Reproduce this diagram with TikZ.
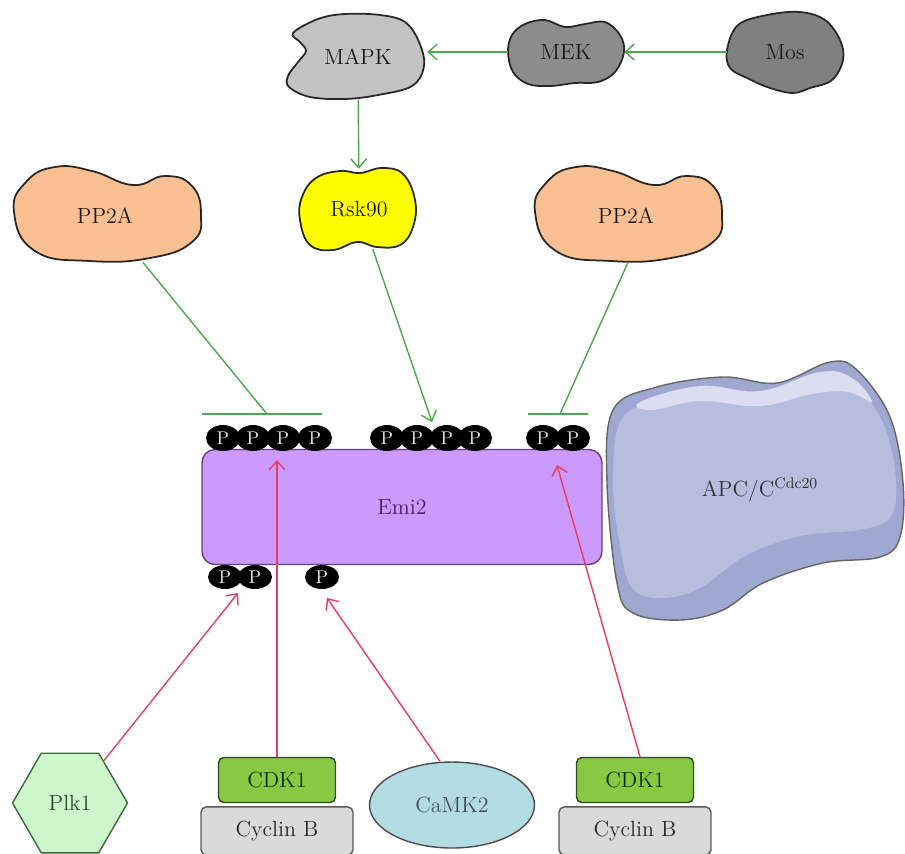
\documentclass[tikz,border=0pt]{standalone}
\usepackage{tikz}
\usetikzlibrary{shapes.geometric,arrows.meta,positioning}

\definecolor{actgreen}{RGB}{80,165,80}
\definecolor{phosred}{RGB}{230,62,95}
\definecolor{mapkgray}{RGB}{194,194,194}
\definecolor{mekgray}{RGB}{140,140,140}
\definecolor{mosgray}{RGB}{128,128,128}
\definecolor{ppfill}{RGB}{250,192,145}
\definecolor{rskyellow}{RGB}{255,255,0}
\definecolor{emifill}{RGB}{204,153,255}
\definecolor{emidraw}{RGB}{105,60,135}
\definecolor{emitext}{RGB}{75,30,105}
\definecolor{apcdark}{RGB}{158,168,208}
\definecolor{apcfill}{RGB}{182,190,224}
\definecolor{apclight}{RGB}{218,222,240}
\definecolor{plkfill}{RGB}{205,246,205}
\definecolor{plkdraw}{RGB}{60,105,60}
\definecolor{cdkfill}{RGB}{136,200,66}
\definecolor{cdkdraw}{RGB}{45,75,30}
\definecolor{cycfill}{RGB}{218,218,218}
\definecolor{camfill}{RGB}{178,220,226}

\begin{document}
\begin{tikzpicture}[x=0.02cm, y=-0.02cm,
  >={Straight Barb[length=5pt,width=9pt]},
  font=\fontsize{12.5}{15}\selectfont,
  blob/.style={draw=black!85, line width=1pt},
  tag/.style={inner sep=0pt, text=black!90},
  act/.style={->, draw=actgreen, line width=0.8pt},
  inh/.style={draw=actgreen, line width=0.8pt},
  phos/.style={->, draw=phosred, line width=0.8pt},
  pdot/.style={ellipse, fill=black, minimum width=0.68cm, minimum height=0.52cm,
    inner sep=0pt, text=white!90!black, font=\fontsize{10.5}{12}\selectfont},
  kbox/.style={rectangle, rounded corners=3pt, line width=0.8pt,
    minimum width=2.34cm, minimum height=0.9cm, fill=cdkfill, draw=cdkdraw, text=black!80!green},
  cbox/.style={rectangle, rounded corners=3pt, line width=0.8pt,
    minimum width=3.04cm, minimum height=0.96cm, fill=cycfill, draw=black!65, text=black!85}]
\useasboundingbox (0,0) rectangle (905,853);

% top kinase cascade
\draw[blob, fill=mapkgray] plot[smooth cycle, tension=0.6] coordinates {
  (293,33) (318,19) (345,14) (380,15) (405,22) (419,42) (424,66) (412,86)
  (378,95) (345,99) (310,97) (289,87) (288,76) (298,62) (306,51) (300,42)};
\draw[blob, fill=mekgray] plot[smooth cycle, tension=0.6] coordinates {
  (508,52) (512,35) (525,24) (545,20) (565,27) (585,24) (605,22) (620,35)
  (624,52) (615,72) (598,82) (575,83) (550,86) (528,84) (513,72)};
\draw[blob, fill=mosgray] plot[smooth cycle, tension=0.6] coordinates {
  (727,50) (738,25) (767,15) (800,12) (825,20) (840,40) (843,60) (832,80)
  (810,88) (793,93) (770,88) (747,78) (730,68)};
\node[tag, minimum width=2.76cm, minimum height=1.7cm] (mapk) at (358,57) {MAPK};
\node[tag, minimum width=2.32cm, minimum height=1.3cm] (mek) at (566,52) {MEK};
\node[tag, minimum width=2.32cm, minimum height=1.6cm] (mos) at (785,52) {Mos};

% Rsk90 and the two phosphatases
\draw[blob, fill=rskyellow] plot[smooth cycle, tension=0.7] coordinates {
  (302,197) (316,178) (340,171) (360,173) (382,168) (403,174) (415,200) (413,227)
  (400,245) (377,247) (357,242) (333,250) (310,245) (300,220)};
\draw[blob, fill=ppfill] plot[smooth cycle, tension=0.8] coordinates {
  (14,212) (26,182) (55,167) (92,171) (133,185) (165,176) (192,186)
  (201,215) (192,242) (150,258) (90,261) (35,251)};
\begin{scope}[shift={(521,0)}]
\draw[blob, fill=ppfill] plot[smooth cycle, tension=0.8] coordinates {
  (14,212) (26,182) (55,167) (92,171) (133,185) (165,176) (192,186)
  (201,215) (192,242) (150,258) (90,261) (35,251)};
\end{scope}
\node[tag, minimum width=2.3cm, minimum height=1.6cm] (rsk) at (359,209) {Rsk90};
\node[tag, minimum width=3.7cm, minimum height=1.84cm] (pp2aL) at (105,216) {PP2A};
\node[tag, minimum width=3.7cm, minimum height=1.84cm] (pp2aR) at (626,216) {PP2A};

% APC/C
\draw[draw=black!60, line width=0.8pt, fill=apcdark] plot[smooth cycle, tension=0.6] coordinates {
  (613,410) (657,387) (723,377) (777,383) (830,362) (857,370) (890,417) (903,483)
  (900,537) (880,557) (823,563) (763,583) (723,610) (680,620) (633,613) (617,583) (607,483)};
\fill[apcfill] plot[smooth cycle, tension=0.6] coordinates {
  (621,420) (660,400) (723,391) (777,397) (830,377) (855,384) (884,425) (896,480)
  (890,518) (858,530) (800,536) (745,556) (700,588) (662,598) (632,588) (619,540) (613,482)};
\fill[apclight] plot[smooth cycle, tension=0.7] coordinates {
  (640,402) (700,386) (760,391) (820,372) (852,378) (872,402) (848,392) (812,394)
  (760,406) (700,401) (652,410)};
\node[tag, text=black!80] (apc) at (760,490) {APC/C\textsuperscript{Cdc20}};

% Emi2 with its phospho sites
\node[rectangle, rounded corners=2.6mm, minimum width=8cm, minimum height=2.3cm,
  fill=emifill, draw=emidraw, line width=0.8pt, text=emitext] (emi) at (402,507) {Emi2};
\foreach \x [count=\i] in {223,253,283,315,387,417,447,475,543,573}
  \node[pdot] (pt\i) at (\x,438) {P};
\foreach \x [count=\i] in {225,255,322}
  \node[pdot, minimum height=0.48cm] (pb\i) at (\x,577) {P};

% kinases below
\node[regular polygon, regular polygon sides=6, minimum size=2.3cm, fill=plkfill,
  draw=plkdraw, line width=0.8pt, text=plkdraw!70!black] (plk) at (70,803) {Plk1};
\node[kbox] (cdkL) at (277,780) {CDK1};
\node[cbox, below=0.06cm of cdkL] (cycL) {Cyclin B};
\node[ellipse, minimum width=3.3cm, minimum height=1.72cm, fill=camfill,
  draw=black!70, line width=0.8pt, text=black!75!cyan] (cam) at (452,805) {CaMK2};
\node[kbox] (cdkR) at (635,780) {CDK1};
\node[cbox, below=0.06cm of cdkR] (cycR) {Cyclin B};

% targets on Emi2
\coordinate (rsktip) at (432,422);
\coordinate (inhL) at (267,414);
\coordinate (inhR) at (560,414);
\coordinate (plktip) at (238,593);
\coordinate (camtip) at (327,598);
\coordinate (cdktipL) at (277,460);
\coordinate (cdktipR) at (557,465);

% connectors
\draw[act] (mos.west) -- (mek.east);
\draw[act] (mek.west) -- (mek.west -| mapk.east);
\draw[act] (mapk) -- (rsk);
\draw[act] (rsk) -- (rsktip);
\draw[inh] (pp2aL) -- (inhL);
\draw[inh] ([xshift=-1.3cm]inhL) -- ([xshift=1.1cm]inhL);
\draw[inh] ([xshift=0.04cm]pp2aR.south) -- (inhR);
\draw[inh] ([xshift=-0.64cm]inhR) -- ([xshift=0.56cm]inhR);
\draw[phos] (plk) -- (plktip);
\draw[phos] (cdkL.north) -- (cdktipL);
\draw[phos] ([xshift=-0.24cm]cam.north) -- (camtip);
\draw[phos] ([xshift=0.1cm]cdkR.north) -- (cdktipR);
\end{tikzpicture}
\end{document}
